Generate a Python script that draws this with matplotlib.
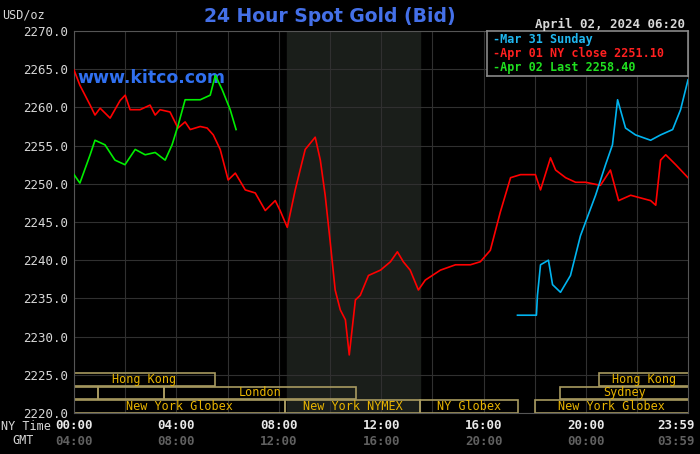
import matplotlib
matplotlib.use("Agg")
import matplotlib.pyplot as plt
from matplotlib.patches import Rectangle

red_h = [0,0.23,0.63,0.82,1.02,1.41,1.8,2.0,2.19,2.58,2.97,3.17,3.36,3.75,4.06,4.34,4.54,4.93,5.2,5.44,5.71,6.02,6.3,6.69,7.08,7.47,7.86,8.05,8.33,8.64,9.03,9.42,9.62,9.81,10.0,10.2,10.4,10.6,10.75,10.99,11.18,11.5,11.97,12.36,12.63,12.86,13.13,13.45,13.72,14.31,14.9,15.48,15.87,16.26,16.65,17.05,17.44,18.02,18.22,18.61,18.81,19.2,19.59,19.98,20.56,20.95,21.27,21.74,22.52,22.72,22.91,23.11,23.5,23.98]
red_p = [2264.9,2262.9,2260.3,2259.0,2259.9,2258.6,2260.9,2261.6,2259.7,2259.7,2260.3,2259.0,2259.7,2259.4,2257.3,2258.1,2257.1,2257.5,2257.3,2256.4,2254.5,2250.5,2251.4,2249.2,2248.8,2246.5,2247.8,2246.5,2244.3,2249.2,2254.5,2256.1,2253.1,2248.5,2242.6,2236.1,2233.5,2232.2,2227.6,2234.8,2235.4,2238.0,2238.7,2239.8,2241.1,2239.8,2238.7,2236.1,2237.4,2238.7,2239.4,2239.4,2239.8,2241.3,2246.3,2250.8,2251.2,2251.2,2249.2,2253.4,2251.8,2250.8,2250.2,2250.2,2249.8,2251.8,2247.8,2248.5,2247.8,2247.2,2253.1,2253.8,2252.5,2250.8]
green_h = [0,0.23,0.63,0.82,1.21,1.6,1.99,2.39,2.78,3.17,3.56,3.83,4.07,4.34,4.93,5.32,5.52,5.79,6.1,6.33]
green_p = [2251.2,2250.1,2253.8,2255.7,2255.1,2253.1,2252.5,2254.5,2253.8,2254.1,2253.1,2255.1,2257.7,2261.0,2261.0,2261.6,2264.2,2262.3,2259.7,2257.1]
cyan_h = [17.32,18.06,18.1,18.22,18.53,18.69,19.0,19.39,19.78,20.37,20.76,21.03,21.23,21.54,21.93,22.52,22.91,23.38,23.69,23.98]
cyan_p = [2232.8,2232.8,2235.4,2239.4,2240.0,2236.8,2235.8,2238.0,2243.2,2248.5,2252.5,2255.1,2261.0,2257.3,2256.4,2255.7,2256.4,2257.1,2259.7,2263.6]
y_ticks = [2220,2225,2230,2235,2240,2245,2250,2255,2260,2265,2270]
x_ticks = [0,4,8,12,16,20,23.98]
ny_labels = ["00:00","04:00","08:00","12:00","16:00","20:00","23:59"]
gmt_labels = ["04:00","08:00","12:00","16:00","20:00","00:00","03:59"]
# sessions: (row, start, end, label)
sessions = [(2,0,5.5,"Hong Kong"),(2,20.5,24,"Hong Kong"),
            (1,0,0.95,""),(1,0.95,3.5,""),(1,3.5,11.0,"London"),(1,19.0,24,"Sydney"),
            (0,0,8.25,"New York Globex"),(0,8.25,13.5,"New York NYMEX"),(0,13.5,17.35,"NY Globex"),(0,18.0,24,"New York Globex")]

mono = "DejaVu Sans Mono"
fig = plt.figure(figsize=(7,4.54), dpi=100, facecolor="black")
ax = fig.add_axes([74/700, 1-413/454, 614/700, 382/454])
ax.set_facecolor("black")
ax.set_xlim(0,23.98); ax.set_ylim(2220,2270)
ax.axvspan(8.33,13.5,color="#1a1e1a",zorder=0)
for y in y_ticks:
    ax.axhline(y,color="#303030",lw=0.8,zorder=1)
for x in range(0,25,2):
    ax.axvline(x,color="#303030",lw=0.8,zorder=1)
rowh = 1.75
for row,s,e,lab in sessions:
    y0 = 2220+row*rowh+0.05
    ax.add_patch(Rectangle((s,y0),e-s,rowh-0.1,fill=False,ec="#a89a60",lw=1.2,zorder=2))
    if lab:
        ax.text((s+e)/2,y0+rowh/2-0.05,lab,color="#e8b400",fontsize=8.5,family=mono,ha="center",va="center",zorder=3)
ax.plot(red_h,red_p,color="#ff0000",lw=1.2,zorder=4)
ax.plot(green_h,green_p,color="#00ee00",lw=1.2,zorder=4)
ax.plot(cyan_h,cyan_p,color="#00b4f0",lw=1.2,zorder=4)
ax.set_yticks(y_ticks); ax.set_yticklabels([f"{v:.1f}" for v in y_ticks],family=mono,fontsize=9,color="#d8d8d8")
ax.set_xticks(x_ticks); ax.set_xticklabels([])
ax.tick_params(length=0,pad=4)
for sp in ax.spines.values(): sp.set_color("#555555")
for i,(x,a,b) in enumerate(zip(x_ticks,ny_labels,gmt_labels)):
    xp = 23.5 if i == len(x_ticks)-1 else x
    ax.text(xp,2218.3,a,color="#e8e8e8",fontsize=9,family=mono,ha="center",va="center",fontweight="bold",clip_on=False)
    ax.text(xp,2216.3,b,color="#606060",fontsize=9,family=mono,ha="center",va="center",fontweight="bold",clip_on=False)
fig.text(1/700,1-427/454,"NY Time",color="#d8d8d8",fontsize=8.5,family=mono,va="center")
fig.text(12/700,1-441/454,"GMT",color="#d8d8d8",fontsize=8.5,family=mono,va="center")
fig.text(2/700,1-15/454,"USD/oz",color="#d8d8d8",fontsize=8.5,family=mono,va="center")
fig.text(330/700,1-17/454,"24 Hour Spot Gold (Bid)",color="#4470e8",fontsize=13.5,fontweight="bold",ha="center",va="center")
fig.text(685/700,1-24/454,"April 02, 2024 06:20",color="#d8d8d8",fontsize=9,family=mono,ha="right",va="center",fontweight="bold")
ax.text(0.12,2263.9,"www.kitco.com",color="#3070f0",fontsize=12.5,fontweight="bold",va="center")
lax = fig.add_axes([487/700,1-76/454,201/700,45/454])
lax.set_facecolor("black"); lax.set_xticks([]); lax.set_yticks([])
for sp in lax.spines.values(): sp.set_color("#888888"); sp.set_linewidth(1.2)
for i,(t,c) in enumerate([("-Mar 31 Sunday","#20b8f0"),("-Apr 01 NY close 2251.10","#ff2020"),("-Apr 02 Last 2258.40","#20e020")]):
    lax.text(0.03,0.82-0.32*i,t,color=c,fontsize=8.5,family=mono,fontweight="bold",va="center",transform=lax.transAxes)
fig.savefig("out.png",dpi=100,facecolor="black")
